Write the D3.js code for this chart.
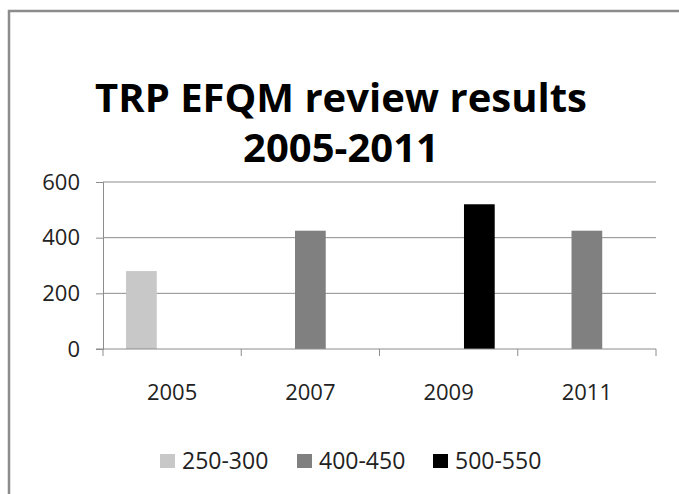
<!DOCTYPE html>
<html>
<head>
<meta charset="utf-8">
<script src="https://cdn.jsdelivr.net/npm/d3@7"></script>
<style>
  html, body { margin: 0; padding: 0; overflow: hidden; background: #fff; }
  svg { display: block; font-family: "Open Sans", "Noto Sans", sans-serif; }
</style>
</head>
<body>
<svg id="chart" width="679" height="494"></svg>
<script>
// chart data
const titleLines = ["TRP EFQM review results", "2005-2011"];
const categories = ["2005", "2007", "2009", "2011"];
const seriesNames = ["250-300", "400-450", "500-550"];
const values250 = [280, 0, 0, 0];
const values400 = [0, 425, 0, 425];
const values500 = [0, 0, 520, 0];
const yTicks = [0, 200, 400, 600];

const seriesValues = [values250, values400, values500];
const colors = ["#c8c8c8", "#808080", "#000000"];

const svg = d3.select("#chart");

// outer frame: only the top and left edges are in the picture
svg.append("line")
  .attr("x1", 9).attr("x2", 9).attr("y1", 10).attr("y2", 494)
  .attr("stroke", "#8c8c8c").attr("stroke-width", 2.5);
svg.append("line")
  .attr("x1", 8).attr("x2", 679).attr("y1", 11).attr("y2", 11)
  .attr("stroke", "#8c8c8c").attr("stroke-width", 2.5);

// title
svg.append("text")
  .attr("text-anchor", "middle")
  .attr("font-weight", "bold")
  .attr("font-size", 40)
  .attr("fill", "#000")
  .selectAll("tspan")
  .data(titleLines)
  .join("tspan")
  .attr("x", 341)
  .attr("y", (d, i) => 112 + i * 50)
  .text(d => d);

const plot = { left: 103, right: 656, top: 182, bottom: 349 };

const x0 = d3.scaleBand()
  .domain(categories)
  .range([plot.left, plot.right]);

const x1 = d3.scaleBand()
  .domain(seriesNames)
  .range([0, x0.bandwidth()])
  .paddingInner(0)
  .paddingOuter(0.75);

const y = d3.scaleLinear()
  .domain([0, 600])
  .range([plot.bottom, plot.top]);

// y axis
const yAxis = svg.append("g")
  .attr("transform", `translate(${plot.left},0)`)
  .call(d3.axisLeft(y).tickValues(yTicks).tickSize(7).tickPadding(16));
yAxis.select(".domain").attr("stroke", "#8c8c8c");
yAxis.selectAll(".tick line").attr("stroke", "#8c8c8c");
yAxis.selectAll(".tick text")
  .attr("font-size", 22)
  .attr("font-family", "Open Sans, sans-serif")
  .attr("fill", "#222");

// gridlines
svg.append("g")
  .selectAll("line")
  .data(yTicks.filter(d => d > 0))
  .join("line")
  .attr("x1", plot.left).attr("x2", plot.right)
  .attr("y1", d => y(d)).attr("y2", d => y(d))
  .attr("stroke", "#8c8c8c")
  .attr("stroke-width", 1);

// bars
const groups = svg.append("g")
  .selectAll("g")
  .data(categories)
  .join("g")
  .attr("transform", d => `translate(${x0(d)},0)`);

groups.selectAll("rect")
  .data((c, ci) => seriesNames.map((s, si) => ({ s, si, v: seriesValues[si][ci] })).filter(d => d.v > 0))
  .join("rect")
  .attr("x", d => x1(d.s))
  .attr("width", x1.bandwidth())
  .attr("y", d => y(d.v))
  .attr("height", d => y(0) - y(d.v))
  .attr("fill", d => colors[d.si]);

// x axis: ticks on category boundaries
const xAxis = svg.append("g")
  .attr("transform", `translate(0,${plot.bottom})`);
xAxis.append("line")
  .attr("x1", plot.left - 7).attr("x2", plot.right)
  .attr("stroke", "#8c8c8c");
xAxis.selectAll(".bound")
  .data(categories.concat(["end"]))
  .join("line")
  .attr("class", "bound")
  .attr("x1", (d, i) => plot.left + i * x0.step())
  .attr("x2", (d, i) => plot.left + i * x0.step())
  .attr("y1", 0).attr("y2", 7)
  .attr("stroke", "#8c8c8c");
xAxis.selectAll("text")
  .data(categories)
  .join("text")
  .attr("x", d => x0(d) + x0.bandwidth() / 2)
  .attr("y", 51)
  .attr("text-anchor", "middle")
  .attr("font-size", 22)
  .attr("fill", "#222")
  .text(d => d);

// legend
const legendX = [160, 297, 433];
const legend = svg.append("g")
  .selectAll("g")
  .data(seriesNames)
  .join("g")
  .attr("transform", (d, i) => `translate(${legendX[i]},454)`);
legend.append("rect")
  .attr("width", 15).attr("height", 14)
  .attr("fill", (d, i) => colors[i]);
legend.append("text")
  .attr("x", 22).attr("y", 15)
  .attr("font-size", 23)
  .attr("fill", "#222")
  .text(d => d);
</script>
</body>
</html>
